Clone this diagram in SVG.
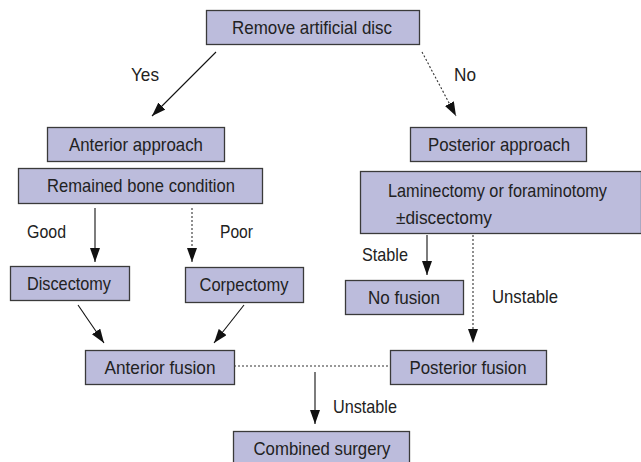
<svg xmlns="http://www.w3.org/2000/svg" width="641" height="462" viewBox="0 0 641 462">
<style>
.box{fill:#bcbcdc;stroke:#3a3a3a;stroke-width:1.3}
.t{font-family:"Liberation Sans",Arial,sans-serif;font-size:19px;fill:#222;text-anchor:middle}
.l{font-family:"Liberation Sans",Arial,sans-serif;font-size:19px;fill:#222}
.c{fill:none;stroke:#111;stroke-width:1.1}
.d{fill:none;stroke:#333;stroke-width:1.1;stroke-dasharray:2,2}
</style>
<defs>
<marker id="ah" markerUnits="userSpaceOnUse" markerWidth="14" markerHeight="10" refX="14" refY="5" orient="auto" viewBox="0 0 14 10">
<path d="M0,0 L14,5 L0,10 z" fill="#111"/>
</marker>
</defs>
<rect width="641" height="462" fill="#fff"/>
<g id="connectors">
<line class="c" x1="216" y1="52" x2="152" y2="116" marker-end="url(#ah)"/>
<line class="d" x1="422" y1="52" x2="456" y2="116" marker-end="url(#ah)"/>
<line class="c" x1="95" y1="208" x2="95" y2="262" marker-end="url(#ah)"/>
<line class="d" x1="192" y1="208" x2="192" y2="262" marker-end="url(#ah)"/>
<line class="c" x1="427" y1="235" x2="427" y2="275" marker-end="url(#ah)"/>
<line class="d" x1="473" y1="235" x2="473" y2="343" marker-end="url(#ah)"/>
<line class="c" x1="78" y1="305" x2="104" y2="343" marker-end="url(#ah)"/>
<line class="c" x1="244" y1="305" x2="214" y2="343" marker-end="url(#ah)"/>
<line class="d" x1="234" y1="366" x2="390" y2="366"/>
<line class="c" x1="315" y1="372" x2="315" y2="424" marker-end="url(#ah)"/>
<text class="l" x="131" y="81" textLength="28" lengthAdjust="spacingAndGlyphs">Yes</text>
<text class="l" x="454" y="81" textLength="22" lengthAdjust="spacingAndGlyphs">No</text>
<text class="l" x="27" y="238" textLength="39" lengthAdjust="spacingAndGlyphs">Good</text>
<text class="l" x="220" y="238" textLength="33" lengthAdjust="spacingAndGlyphs">Poor</text>
<text class="l" x="362" y="261" textLength="46" lengthAdjust="spacingAndGlyphs">Stable</text>
<text class="l" x="492" y="303" textLength="66" lengthAdjust="spacingAndGlyphs">Unstable</text>
<text class="l" x="333" y="413" textLength="64" lengthAdjust="spacingAndGlyphs">Unstable</text>
</g>
<g id="remove">
<rect class="box" x="206.5" y="10.5" width="213" height="34"/>
<text class="t" x="312" y="34" textLength="160" lengthAdjust="spacingAndGlyphs">Remove artificial disc</text>
</g>
<g id="anterior-approach">
<rect class="box" x="47.5" y="127.5" width="177" height="34"/>
<text class="t" x="136" y="151" textLength="134" lengthAdjust="spacingAndGlyphs">Anterior approach</text>
</g>
<g id="remained-bone">
<rect class="box" x="18.5" y="168.5" width="244" height="35"/>
<text class="t" x="141" y="192" textLength="188" lengthAdjust="spacingAndGlyphs">Remained bone condition</text>
</g>
<g id="posterior-approach">
<rect class="box" x="410.5" y="127.5" width="176" height="34"/>
<text class="t" x="499" y="151" textLength="142" lengthAdjust="spacingAndGlyphs">Posterior approach</text>
</g>
<g id="laminectomy">
<rect class="box" x="360.5" y="171.5" width="281" height="62"/>
<text class="l" x="388" y="197" textLength="219" lengthAdjust="spacingAndGlyphs">Laminectomy or foraminotomy</text>
<text class="l" x="396" y="224" textLength="96" lengthAdjust="spacingAndGlyphs">±discectomy</text>
</g>
<g id="discectomy">
<rect class="box" x="10.5" y="266.5" width="119" height="34"/>
<text class="t" x="69" y="290" textLength="84" lengthAdjust="spacingAndGlyphs">Discectomy</text>
</g>
<g id="corpectomy">
<rect class="box" x="185.5" y="267.5" width="118" height="35"/>
<text class="t" x="244" y="291" textLength="89" lengthAdjust="spacingAndGlyphs">Corpectomy</text>
</g>
<g id="no-fusion">
<rect class="box" x="345.5" y="280.5" width="118" height="34"/>
<text class="t" x="404" y="304" textLength="72" lengthAdjust="spacingAndGlyphs">No fusion</text>
</g>
<g id="anterior-fusion">
<rect class="box" x="85.5" y="350.5" width="149" height="34"/>
<text class="t" x="160" y="374" textLength="111" lengthAdjust="spacingAndGlyphs">Anterior fusion</text>
</g>
<g id="posterior-fusion">
<rect class="box" x="390.5" y="350.5" width="156" height="34"/>
<text class="t" x="468" y="374" textLength="117" lengthAdjust="spacingAndGlyphs">Posterior fusion</text>
</g>
<g id="combined">
<rect class="box" x="233.5" y="431.5" width="176" height="34"/>
<text class="t" x="322" y="455" textLength="137" lengthAdjust="spacingAndGlyphs">Combined surgery</text>
</g>
</svg>
